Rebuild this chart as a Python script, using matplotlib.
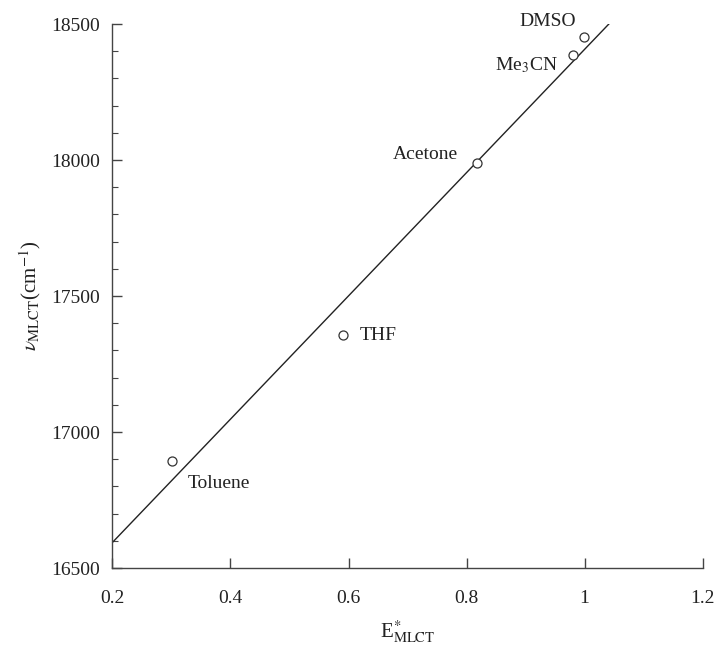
import matplotlib
matplotlib.use("Agg")
import matplotlib.pyplot as plt
from matplotlib.ticker import MultipleLocator

plt.rcParams['font.family'] = ['Liberation Serif', 'DejaVu Serif']
plt.rcParams['mathtext.fontset'] = 'stix'

# Data
solvents = ["Toluene", "THF", "Acetone", r"Me$_3$CN", "DMSO"]
e_mlct = [0.301, 0.590, 0.818, 0.980, 0.999]
nu_mlct = [16893, 17357, 17988, 18386, 18453]

# fitted line endpoints
fit_x = [0.20, 1.041]
fit_y = [16594, 18500]

x_ticks = [0.2, 0.4, 0.6, 0.8, 1.0, 1.2]
x_tick_labels = ["0.2", "0.4", "0.6", "0.8", "1", "1.2"]
y_ticks = [16500, 17000, 17500, 18000, 18500]

# label offsets in pixels (dx, dy) and alignment
offsets = [(16, -22), (17, -1), (-19, 9), (-15, -15), (-8, 15)]
has = ["left", "left", "right", "right", "right"]
vas = ["center", "center", "center", "baseline", "center"]

fig = plt.figure(figsize=(7.16, 6.46), dpi=100)
ax = fig.add_axes([0.157, 0.1207, 0.8244, 0.8421])

ax.plot(fit_x, fit_y, color="#222222", lw=1.0)
ax.plot(e_mlct, nu_mlct, linestyle="none", marker="o", markersize=6.5,
        markerfacecolor="white", markeredgecolor="#333333", markeredgewidth=0.9)

for name, x, y, off, ha, va in zip(solvents, e_mlct, nu_mlct, offsets, has, vas):
    ax.annotate(name, (x, y), xytext=off, textcoords="offset pixels",
                ha=ha, va=va, fontsize=14, color="#222222")

ax.set_xlim(0.2, 1.2)
ax.set_ylim(16500, 18500)
ax.set_xticks(x_ticks)
ax.set_xticklabels(x_tick_labels)
ax.set_yticks(y_ticks)
ax.yaxis.set_minor_locator(MultipleLocator(100))

for s in ["top", "right"]:
    ax.spines[s].set_visible(False)
for s in ["left", "bottom"]:
    ax.spines[s].set_linewidth(1.0)
    ax.spines[s].set_color("#444444")

ax.tick_params(axis="both", which="major", direction="in", length=7, width=1.0,
               color="#444444", labelsize=14, labelcolor="#222222")
ax.tick_params(axis="x", which="major", pad=16)
ax.tick_params(axis="y", which="major", pad=9)
ax.tick_params(axis="y", which="minor", direction="in", length=4, width=0.8, color="#444444")

ax.set_xlabel(r"E$^{*}_{\rm MLCT}$", fontsize=15, color="#222222", labelpad=8)
ax.set_ylabel(r"$\nu_{\rm MLCT}$(cm$^{-1}$)", fontsize=15, color="#222222", labelpad=6)

fig.savefig("out.png", dpi=100)
